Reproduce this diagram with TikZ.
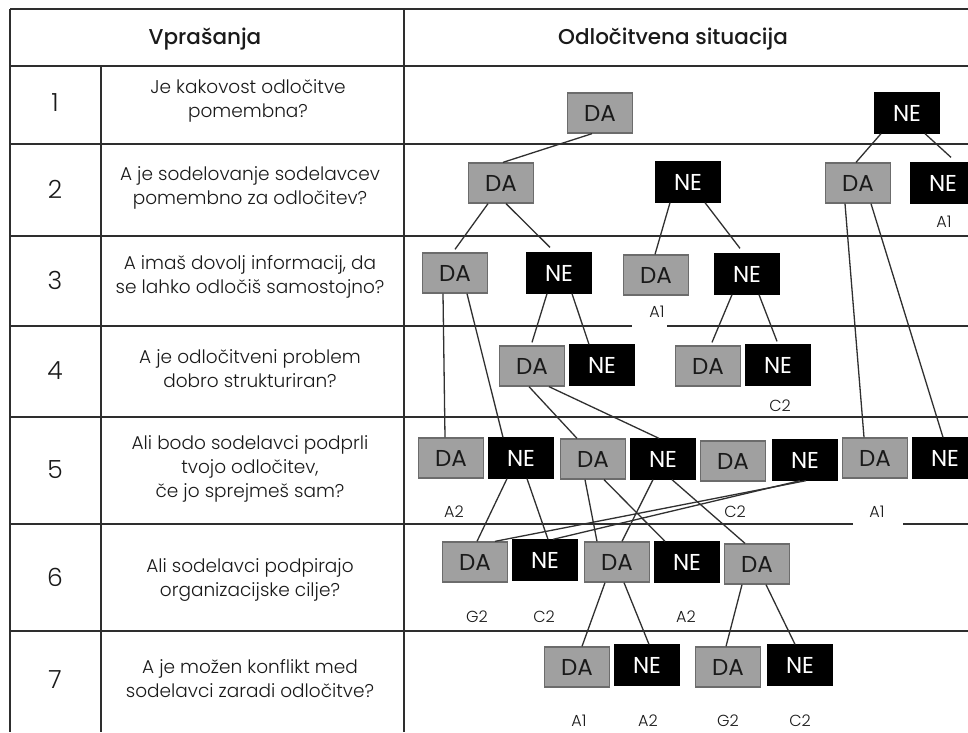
\documentclass[tikz,border=0pt]{standalone}
\usepackage{fontspec}
\setmainfont{Poppins}[UprightFont=* Light]
\newfontfamily\headfont{Poppins}[UprightFont=* Medium]
\newfontfamily\boxfont{Poppins}
\definecolor{inkdark}{HTML}{1A1A1A}
\definecolor{rulegray}{HTML}{2E2E2E}
\definecolor{boxgray}{HTML}{A0A0A0}
\definecolor{boxedge}{HTML}{6C6C6C}
\definecolor{linkgray}{HTML}{303030}
\begin{document}
\begin{tikzpicture}[x=1pt,y=-1pt,
  rule/.style={draw=rulegray,line width=1.6pt},
  question/.style={align=center,text=inkdark,font=\fontsize{18.5}{24}\selectfont},
  rownum/.style={text=inkdark,font=\fontsize{25}{26}\selectfont},
  heading/.style={text=inkdark,font=\headfont\fontsize{21.5}{26}\selectfont},
  dabox/.style={draw=boxedge,fill=boxgray,line width=1.3pt,minimum width=65pt,minimum height=40pt,inner sep=0pt,text=inkdark,font=\boxfont\fontsize{23}{24}\selectfont},
  nebox/.style={draw=black,fill=black,line width=1.3pt,minimum width=65pt,minimum height=40pt,inner sep=0pt,text=white,font=\boxfont\fontsize{23}{24}\selectfont},
  outcome/.style={text=inkdark,inner sep=1pt,font=\fontsize{16}{16}\selectfont},
  link/.style={draw=linkgray,line width=1.3pt}]
\useasboundingbox (0,0) rectangle (968,732);
\fill[white] (0,0) rectangle (968,732);

% table rules
\foreach \yy in {9,66,144,236,326,417,524,631}
  \draw[rule] (10,\yy) -- (968,\yy);
\draw[rule] (10,9) -- (10,732);
\draw[rule] (101,66) -- (101,732);
\draw[rule] (404,9) -- (404,732);

% header
\node[heading] (hq) at (205,39) {Vprašanja};
\node[heading] (hs) at (673,39) {Odločitvena situacija};

% question column
\node[rownum] (n1) at (55,103) {1};
\node[rownum] (n2) at (55,189) {2};
\node[rownum] (n3) at (55,280) {3};
\node[rownum] (n4) at (55,371) {4};
\node[rownum] (n5) at (55,470) {5};
\node[rownum] (n6) at (55,577) {6};
\node[rownum] (n7) at (55,680) {7};

\node[question] (q1) at (248,101) {Je kakovost odločitve\\pomembna?};
\node[question] (q2) at (250,188) {A je sodelovanje sodelavcev\\pomembno za odločitev?};
\node[question] (q3) at (250,277) {A imaš dovolj informacij, da\\se lahko odločiš samostojno?};
\node[question] (q4) at (250,369) {A je odločitveni problem\\dobro strukturiran?};
\node[question] (q5) at (250,469) {Ali bodo sodelavci podprli\\tvojo odločitev,\\če jo sprejmeš sam?};
\node[question] (q6) at (250,580) {Ali sodelavci podpirajo\\organizacijske cilje?};
\node[question] (q7) at (250,679) {A je možen konflikt med\\sodelavci zaradi odločitve?};

% decision tree, row by row
\node[dabox] (da1) at (600,113) {DA};
\node[nebox] (ne1) at (907,113) {NE};

\node[dabox] (da2) at (501,183) {DA};
\node[nebox] (ne2) at (688,182) {NE};
\node[dabox] (da2r) at (858,183) {DA};
\node[nebox] (ne2r) at (943,183) {NE};

\node[dabox] (da3a) at (455,273) {DA};
\node[nebox] (ne3a) at (559,273) {NE};
\node[dabox] (da3b) at (656,275) {DA};
\node[nebox] (ne3b) at (747,274) {NE};

\node[dabox] (da4a) at (532,366) {DA};
\node[nebox] (ne4a) at (602,365) {NE};
\node[dabox] (da4b) at (708,366) {DA};
\node[nebox] (ne4b) at (778,365) {NE};

\node[dabox] (da5a) at (451,458) {DA};
\node[nebox] (ne5a) at (521,458) {NE};
\node[dabox] (da5b) at (593,459) {DA};
\node[nebox] (ne5b) at (663,459) {NE};
\node[dabox] (da5c) at (733,461) {DA};
\node[nebox] (ne5c) at (805,460) {NE};
\node[dabox] (da5d) at (875,458) {DA};
\node[nebox] (ne5d) at (945,458) {NE};

\node[dabox] (da6a) at (475,562) {DA};
\node[nebox] (ne6a) at (545,560) {NE};
\node[dabox] (da6b) at (617,562) {DA};
\node[nebox] (ne6b) at (687,562) {NE};
\node[dabox] (da6c) at (757,564) {DA};

\node[dabox] (da7a) at (577,667) {DA};
\node[nebox] (ne7a) at (647,665) {NE};
\node[dabox] (da7b) at (728,667) {DA};
\node[nebox] (ne7b) at (800,665) {NE};

% branches
\draw[link] ([xshift=-8pt]da1.south) -- ([xshift=2pt]da2.north);
\draw[link] ([xshift=-26pt]ne1.south) -- ([xshift=-2pt]da2r.north);
\draw[link] ([xshift=18pt]ne1.south) -- ([xshift=8pt,yshift=5pt]ne2r.north);
\draw[link] ([xshift=-13pt]da2.south) -- ([yshift=3pt]da3a.north);
\draw[link] ([xshift=5pt]da2.south) -- ([xshift=-9pt,yshift=5pt]ne3a.north);
\draw[link] ([xshift=-18pt]ne2.south) -- ([xshift=-1pt]da3b.north);
\draw[link] ([xshift=17pt]ne2.south) -- ([xshift=-7pt,yshift=5pt]ne3b.north);
\draw[link] ([xshift=-13pt]da2r.south) -- ([xshift=-11pt]da5d.north);
\draw[link] ([xshift=13pt]da2r.south) -- ([xshift=-2pt]ne5d.north);
\draw[link] ([xshift=-12pt]da3a.south) -- ([xshift=-6pt]da5a.north);
\draw[link] ([xshift=12pt]da3a.south) -- ([xshift=-18pt]ne5a.north);
\draw[link] ([xshift=-12pt]ne3a.south) -- ([yshift=3pt]da4a.north);
\draw[link] ([xshift=13pt]ne3a.south) -- ([xshift=-13pt]ne4a.north);
\draw[link] ([xshift=-15pt]ne3b.south) -- ([xshift=4pt,yshift=3pt]da4b.north);
\draw[link] ([xshift=12pt]ne3b.south) -- ([xshift=-1pt,yshift=3pt]ne4b.north);
\draw[link] ([xshift=-3pt]da4a.south) -- ([xshift=-16pt]da5b.north);
\draw[link] ([xshift=17pt]da4a.south) -- ([xshift=-4pt]ne5b.north);
\draw[link] ([xshift=-14pt]ne5a.south) -- ([xshift=2pt]da6a.north);
\draw[link] ([xshift=6pt]ne5a.south) -- ([xshift=3pt]ne6a.north);
\draw[link] ([xshift=-8pt]da5b.south) -- ([xshift=-20pt]da6b.north);
\draw[link] ([xshift=11pt]da5b.south) -- ([xshift=-22pt]ne6b.north);
\draw[link] ([xshift=-10pt]ne5b.south) -- ([xshift=5pt]da6b.north);
\draw[link] ([xshift=9pt]ne5b.south) -- ([xshift=-12pt]da6c.north);
\draw[link] ([xshift=1pt]ne5c.south) -- ([xshift=20pt]da6a.north);
\draw[link] ([xshift=-5pt]ne5c.south) -- ([xshift=8pt]ne6a.north);
\draw[link] ([xshift=-12pt]da6b.south) -- ([xshift=5pt]da7a.north);
\draw[link] ([xshift=7pt]da6b.south) -- ([xshift=2pt]ne7a.north);
\draw[link] ([xshift=-15pt]da6c.south) -- ([xshift=-2pt]da7b.north);
\draw[link] ([xshift=9pt]da6c.south) -- ([xshift=-5pt]ne7b.north);

% outcome codes
\fill[white] (632,322) rectangle (667,329);
\fill[white] (853,520) rectangle (903,527);
\node[outcome] (o2) at (944,222) {A1};
\node[outcome] (o3) at (657,312) {A1};
\node[outcome] (o4) at (780,406) {C2};
\node[outcome] (o5a) at (454,512) {A2};
\node[outcome] (o5b) at (735,512) {C2};
\node[outcome] (o5c) at (877,512) {A1};
\node[outcome] (o6a) at (477,617) {G2};
\node[outcome] (o6b) at (544,617) {C2};
\node[outcome] (o6c) at (686,617) {A2};
\node[outcome] (o7a) at (579,721) {A1};
\node[outcome] (o7b) at (648,721) {A2};
\node[outcome] (o7c) at (728,721) {G2};
\node[outcome] (o7d) at (800,721) {C2};
\end{tikzpicture}
\end{document}
